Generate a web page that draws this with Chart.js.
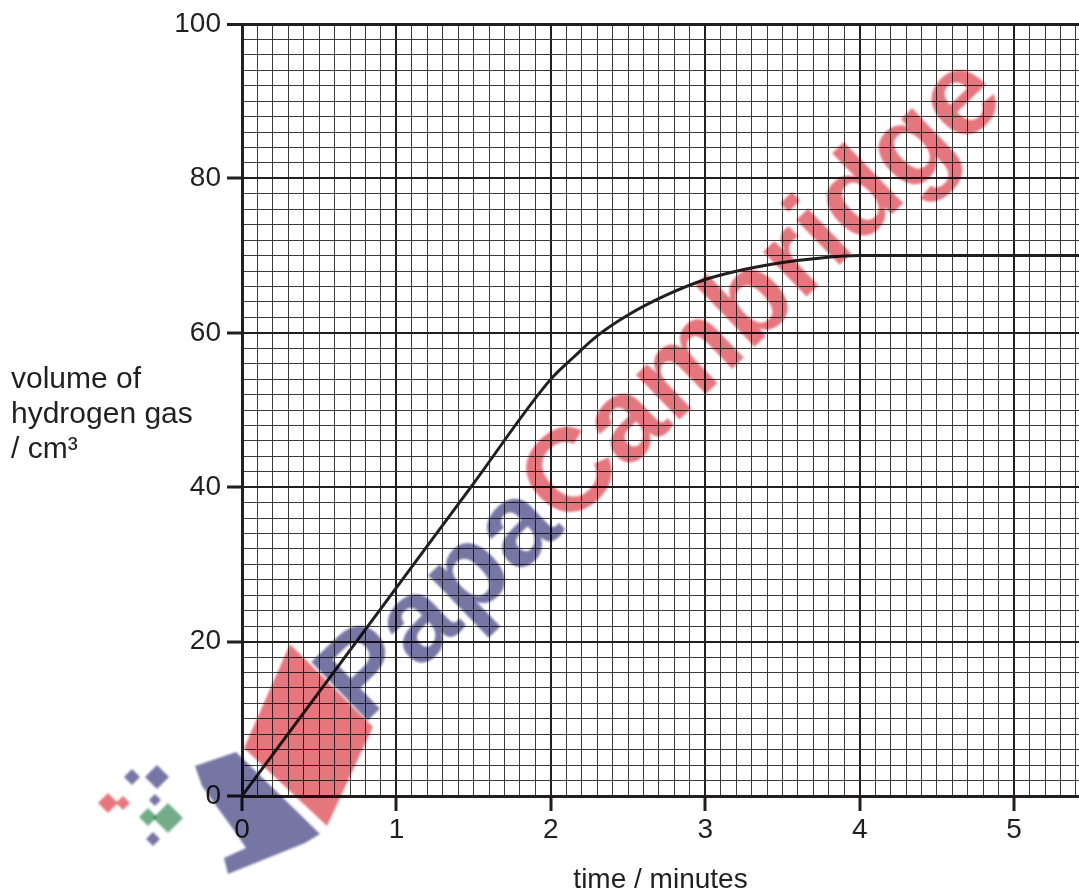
<!DOCTYPE html>
<html><head><meta charset="utf-8">
<script src="https://cdn.jsdelivr.net/npm/chart.js@4"></script>
<style>html,body{margin:0;padding:0;background:#fff;overflow:hidden}canvas{display:block}</style>
</head><body>
<canvas id="c" width="1079" height="891"></canvas>
<script>
// ---- data ----
const timeMinutes    = [0, 0.5, 1, 1.5, 2, 2.15, 2.3, 2.5, 2.75, 3, 3.25, 3.5, 3.75, 4, 5.42];
const hydrogenVolume = [0, 13.5, 27, 40.5, 54, 56.9, 59.6, 62.3, 64.9, 66.9, 68.2, 69.1, 69.7, 70, 70];
const xTickLabels = ['0', '1', '2', '3', '4', '5'];
const yTickLabels = ['0', '20', '40', '60', '80', '100'];
const yTitleLines = ['volume of', 'hydrogen gas', '/ cm³'];
const xTitle = 'time / minutes';
const watermarkParts = ['Papa', 'Cambridge'];

const INK = '#231f20';
const FONT = '"Liberation Sans", Arial, Helvetica, sans-serif';
const isMajor = (v, step) => Math.abs(v / step - Math.round(v / step)) < 1e-6;

const points = timeMinutes.map((t, i) => ({x: t, y: hydrogenVolume[i]}));

const yTitlePlugin = {
  id: 'yTitle',
  afterDraw(chart) {
    const ctx = chart.ctx;
    ctx.save();
    ctx.fillStyle = INK;
    ctx.font = '30px ' + FONT;
    ctx.textAlign = 'left';
    ctx.textBaseline = 'alphabetic';
    const base = [388, 423, 458];
    yTitleLines.forEach((s, i) => ctx.fillText(s, 11, base[i]));
    ctx.restore();
  }
};

const watermarkPlugin = {
  id: 'watermark',
  afterDraw(chart) {
    const ctx = chart.ctx;
    ctx.save();
    ctx.globalCompositeOperation = 'multiply';
    ctx.filter = 'blur(0.8px)';
    const blue = 'rgb(118,118,165)', red = 'rgb(230,118,126)', green = 'rgb(115,172,135)';
    const poly = (pts, c) => { ctx.fillStyle = c; ctx.beginPath(); pts.forEach((p, i) => i ? ctx.lineTo(p[0], p[1]) : ctx.moveTo(p[0], p[1])); ctx.closePath(); ctx.fill(); };
    poly([[195,766],[236,752],[320,834],[305,843],[228,874],[224,858],[246,848],[238,836],[202,786]], blue);
    poly([[290,644],[373,727],[327,826],[244,748]], red);
    const dia = (cx, cy, r, c) => poly([[cx, cy - r],[cx + r, cy],[cx, cy + r],[cx - r, cy]], c);
    dia(108, 803, 10, red); dia(123, 803, 7, red);
    dia(132, 777, 8, blue); dia(157, 777, 12, blue); dia(155, 800, 6, blue); dia(153, 839, 7, blue);
    dia(148, 817, 9, green); dia(168, 818, 15, green);
    ctx.translate(362, 726);
    ctx.rotate(-44 * Math.PI / 180);
    ctx.font = 'bold 118px ' + FONT;
    ctx.textBaseline = 'alphabetic';
    ctx.textAlign = 'left';
    ctx.fillStyle = blue;
    ctx.fillText(watermarkParts[0], 0, 0);
    const w = ctx.measureText(watermarkParts[0]).width;
    ctx.fillStyle = red;
    ctx.fillText(watermarkParts[1], w, 0);
    ctx.restore();
  }
};

new Chart(document.getElementById('c'), {
  type: 'line',
  data: {
    datasets: [{
      data: points,
      borderColor: INK,
      borderWidth: 3,
      pointRadius: 0,
      cubicInterpolationMode: 'monotone',
      fill: false
    }]
  },
  options: {
    responsive: false,
    devicePixelRatio: 1,
    animation: false,
    layout: {padding: {top: 24, right: 0, left: 0, bottom: 0}},
    plugins: {legend: {display: false}, tooltip: {enabled: false}},
    scales: {
      x: {
        type: 'linear', min: 0, max: 5.42,
        afterBuildTicks(scale) { const t = []; for (let i = 0; i <= 54; i++) t.push({value: i / 10}); scale.ticks = t; },
        afterFit(scale) { scale.height = 95; },
        ticks: {
          autoSkip: false, maxRotation: 0, padding: 2, color: INK,
          font: {family: FONT, size: 28},
          callback(v) { return isMajor(v, 1) ? xTickLabels[Math.round(v)] : ''; }
        },
        grid: {
          drawTicks: true, tickLength: 15,
          color: c => isMajor(c.tick.value, 1) ? INK : '#3a3a3a',
          lineWidth: c => isMajor(c.tick.value, 1) ? 2 : 1,
          tickColor: c => isMajor(c.tick.value, 1) ? INK : 'rgba(0,0,0,0)',
          tickWidth: 3
        },
        border: {display: true, color: INK, width: 3},
        title: {display: true, text: xTitle, color: INK, font: {family: FONT, size: 28, lineHeight: 0.8}, padding: 0}
      },
      y: {
        type: 'linear', min: 0, max: 100,
        afterBuildTicks(scale) { const t = []; for (let i = 0; i <= 50; i++) t.push({value: i * 2}); scale.ticks = t; },
        afterFit(scale) { scale.width = 242; },
        ticks: {
          autoSkip: false, padding: 6, color: INK,
          font: {family: FONT, size: 28},
          callback(v) { return isMajor(v, 20) ? yTickLabels[Math.round(v / 20)] : ''; }
        },
        grid: {
          drawTicks: true, tickLength: 15,
          color: c => isMajor(c.tick.value, 20) ? INK : '#3a3a3a',
          lineWidth: c => c.tick.value === 100 ? 3 : (isMajor(c.tick.value, 20) ? 2 : 1),
          tickColor: c => isMajor(c.tick.value, 20) ? INK : 'rgba(0,0,0,0)',
          tickWidth: 3
        },
        border: {display: true, color: INK, width: 3}
      }
    }
  },
  plugins: [yTitlePlugin, watermarkPlugin]
});
</script>
</body></html>
